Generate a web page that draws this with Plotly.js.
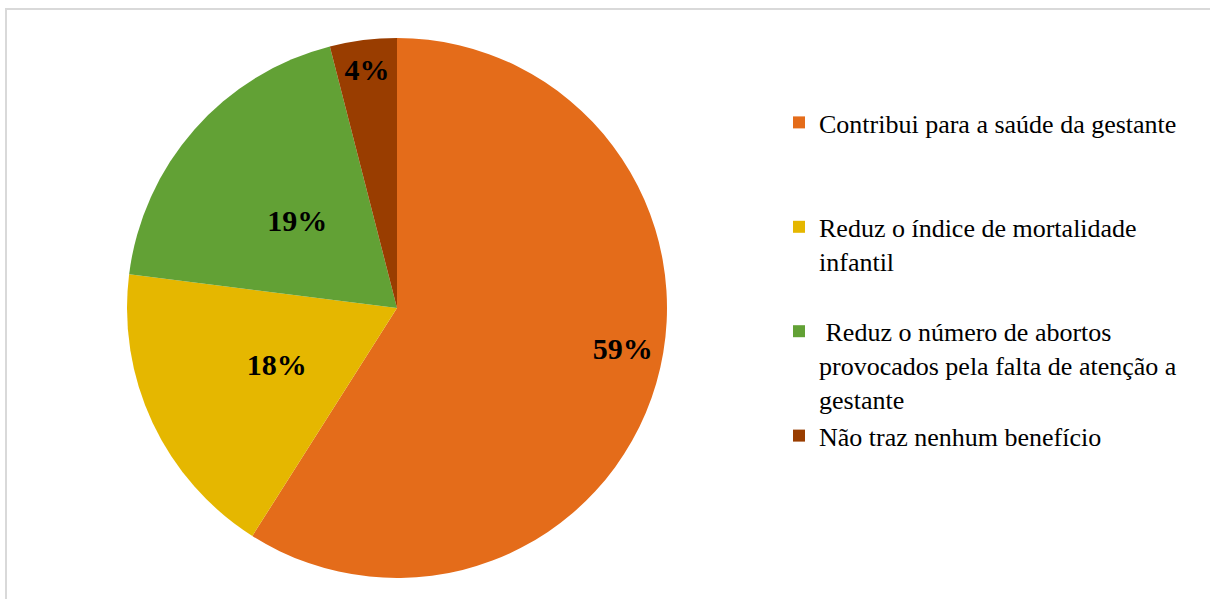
<!DOCTYPE html>
<html>
<head>
<meta charset="utf-8">
<script src="https://cdn.plot.ly/plotly-3.0.1.min.js"></script>
<style>
html,body{margin:0;padding:0;background:#fff;}
#chart{width:1210px;height:599px;}
</style>
</head>
<body>
<div id="chart"></div>
<script>
var categories = [
  "Contribui para a saúde da gestante",
  "Reduz o índice de mortalidade<br>infantil",
  " Reduz o número de abortos<br>provocados pela falta de atenção a<br>gestante",
  "Não traz nenhum benefício"
];
var legendPadding = ["<br> <br> ", "<br> ", "", ""];
var values = [59, 18, 19, 4];
var colors = ["#E46C1A", "#E5B700", "#62A135", "#993D00"];

var labels = categories.map(function (c, i) { return c + legendPadding[i]; });
var serif = "Liberation Serif";
var labelFont = { family: serif, size: 30, color: "#000000", weight: "bold" };
var clear = values.map(function () { return "rgba(0,0,0,0)"; });

var mainDomain = { x: [127 / 1210, 667 / 1210], y: [21 / 599, 561 / 599] };
var innerDomain = { x: [197 / 1210, 597 / 1210], y: [1 - 508 / 599, 1 - 108 / 599] };

function pieBase() {
  return {
    type: "pie",
    labels: labels,
    values: values,
    sort: false,
    direction: "clockwise",
    rotation: 0,
    hoverinfo: "skip"
  };
}

var mainTrace = Object.assign(pieBase(), {
  marker: { colors: colors, line: { width: 0 } },
  textinfo: "none",
  domain: mainDomain
});

// transparent overlay pies that only carry the percent labels
function labelTrace(show, hole, domain, rotation) {
  return Object.assign(pieBase(), {
    marker: { colors: clear, line: { width: 0 } },
    hole: hole,
    rotation: rotation,
    showlegend: false,
    textposition: "inside",
    insidetextorientation: "horizontal",
    texttemplate: show.map(function (s) { return s ? "%{percent:.0%}" : ""; }),
    textfont: labelFont,
    domain: domain
  });
}

var traces = [
  mainTrace,
  labelTrace([true, false, false, false], 0.7, mainDomain, -6),
  labelTrace([false, false, false, true], 0.7, mainDomain, 0),
  labelTrace([false, true, true, false], 0.33, innerDomain, 0)
];

var layout = {
  width: 1210,
  height: 599,
  margin: { l: 0, r: 0, t: 0, b: 0 },
  paper_bgcolor: "#ffffff",
  font: { family: serif },
  showlegend: true,
  legend: {
    x: 779 / 1210,
    xanchor: "left",
    y: 1 - 99 / 599,
    yanchor: "top",
    valign: "top",
    font: { family: serif, size: 26, color: "#000000" },
    bgcolor: "rgba(0,0,0,0)",
    borderwidth: 0
  },
  shapes: [{
    type: "rect", xref: "paper", yref: "paper",
    x0: 6 / 1210, x1: 1.02, y0: -0.02, y1: 1 - 9 / 599,
    line: { color: "#d9d9d9", width: 2 }
  }]
};

Plotly.newPlot("chart", traces, layout, { displayModeBar: false, staticPlot: true });
</script>
</body>
</html>
